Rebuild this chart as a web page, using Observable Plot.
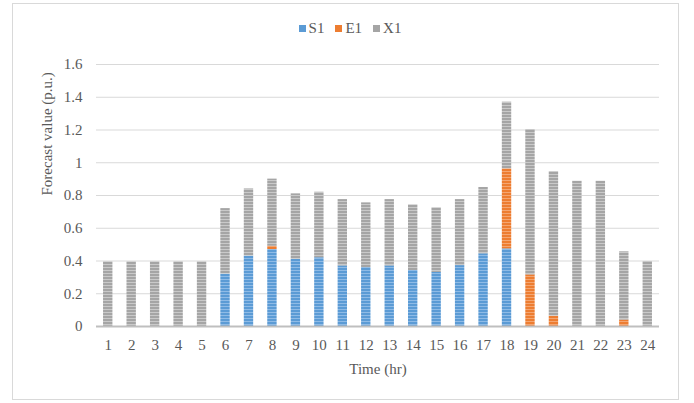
<!DOCTYPE html>
<html>
<head>
<meta charset="utf-8">
<script src="https://cdn.jsdelivr.net/npm/d3@7"></script>
<script src="https://cdn.jsdelivr.net/npm/@observablehq/plot@0.6"></script>
<style>
  html, body { margin: 0; padding: 0; background: #fff; }
  #wrap { position: relative; width: 694px; height: 403px; font-family: "Liberation Serif", "Times New Roman", serif; color: #595959; }
  #frame { position: absolute; left: 12px; top: 3px; width: 667px; height: 397px; border: 1px solid #d9d9d9; box-sizing: border-box; }
  #legend { position: absolute; left: 0; width: 700px; top: 18px; height: 20px; display: flex; justify-content: center; align-items: center; gap: 11px; font-size: 15px; }
  #legend .item { display: flex; align-items: center; gap: 3px; }
  #legend .sw { width: 7px; height: 7px; display: inline-block; }
  #chart { position: absolute; left: 0; top: 40px; }
</style>
</head>
<body>
<div id="wrap">
  <div id="frame"></div>
  <div id="legend"></div>
  <div id="chart"></div>
</div>
<script>
const hours = [1,2,3,4,5,6,7,8,9,10,11,12,13,14,15,16,17,18,19,20,21,22,23,24];
const seriesNames = ["S1", "E1", "X1"];
const seriesColors = ["#5b9bd5", "#ed7d31", "#a5a5a5"];
const S1 = [0,0,0,0,0,0.32,0.43,0.47,0.41,0.42,0.37,0.36,0.37,0.342,0.33,0.372,0.444,0.474,0,0,0,0,0,0];
const E1 = [0,0,0,0,0,0,0,0.02,0,0,0,0,0,0,0,0,0,0.489,0.315,0.063,0,0,0.039,0];
const X1 = [0.395,0.395,0.395,0.395,0.395,0.40,0.41,0.41,0.40,0.40,0.405,0.395,0.405,0.401,0.395,0.403,0.405,0.407,0.888,0.883,0.887,0.887,0.417,0.397];
const yTicks = [0,0.2,0.4,0.6,0.8,1,1.2,1.4,1.6];

const values = {S1, E1, X1};
const data = [];
seriesNames.forEach(s => hours.forEach((h, i) => data.push({hour: h, series: s, value: values[s][i]})));

// legend
const legend = document.getElementById("legend");
seriesNames.forEach((s, i) => {
  const it = document.createElement("span");
  it.className = "item";
  it.innerHTML = `<span class="sw" style="background:${seriesColors[i]}"></span><span>${s}</span>`;
  legend.appendChild(it);
});

const chart = Plot.plot({
  width: 694,
  height: 363,
  marginLeft: 96,
  marginRight: 35,
  marginTop: 24,
  marginBottom: 77,
  style: {fontFamily: '"Liberation Serif", "Times New Roman", serif', fontSize: "15px", color: "#595959", background: "transparent"},
  x: {domain: hours, paddingInner: 0.6, paddingOuter: 0.3, align: 0.5, round: false, label: null},
  y: {domain: [0, 1.6], label: null},
  color: {domain: seriesNames, range: ["url(#pS1)", "url(#pE1)", "url(#pX1)"]},
  marks: [
    Plot.gridY(yTicks, {stroke: "#d9d9d9", strokeOpacity: 1}),
    Plot.axisY(yTicks, {tickSize: 0, tickPadding: 14, tickFormat: d => String(d), fill: "#595959", label: null}),
    Plot.axisX({tickSize: 0, tickPadding: 13, fill: "#595959", label: null}),
    Plot.barY(data, Plot.stackY({x: "hour", y: "value", fill: "series", order: seriesNames})),
    Plot.ruleY([0], {stroke: "#bfbfbf", strokeWidth: 2}),
    Plot.text(["Time (hr)"], {frameAnchor: "bottom", dy: 47, fill: "#595959", fontSize: 15}),
    Plot.text(["Forecast value (p.u.)"], {frameAnchor: "left", dx: -49, rotate: -90, fill: "#595959", fontSize: 15})
  ]
});

// stripe patterns to mimic the textured bars
const ns = "http://www.w3.org/2000/svg";
const defs = document.createElementNS(ns, "defs");
const light = ["#8fbbe6", "#f4a672", "#c9c9c9"];
seriesNames.forEach((s, i) => {
  const p = document.createElementNS(ns, "pattern");
  p.setAttribute("id", "p" + s);
  p.setAttribute("patternUnits", "userSpaceOnUse");
  p.setAttribute("width", "10");
  p.setAttribute("height", "3");
  const r1 = document.createElementNS(ns, "rect");
  r1.setAttribute("width", "10"); r1.setAttribute("height", "3"); r1.setAttribute("fill", seriesColors[i]);
  const r2 = document.createElementNS(ns, "rect");
  r2.setAttribute("y", "2"); r2.setAttribute("width", "10"); r2.setAttribute("height", "1"); r2.setAttribute("fill", light[i]);
  p.appendChild(r1); p.appendChild(r2);
  defs.appendChild(p);
});
chart.insertBefore(defs, chart.firstChild);
document.getElementById("chart").appendChild(chart);
</script>
</body>
</html>
